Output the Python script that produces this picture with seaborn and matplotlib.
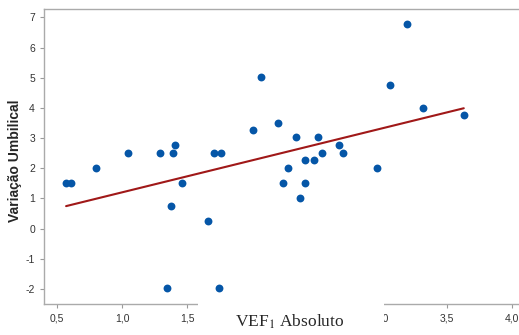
import matplotlib
matplotlib.use("Agg")
import matplotlib.pyplot as plt
from matplotlib.patches import Rectangle
import numpy as np
import pandas as pd
import seaborn as sns

# values
vef1 = [0.57, 0.61, 0.80, 1.05, 1.29, 1.39, 1.41, 1.46, 1.38, 1.66, 1.35, 1.75,
        1.71, 1.76, 2.01, 2.07, 2.20, 2.24, 2.28, 2.34, 2.37, 2.41, 2.41, 2.48,
        2.51, 2.54, 2.67, 2.70, 2.96, 3.06, 3.19, 3.32, 3.63]
umbilical = [1.52, 1.52, 2.0, 2.5, 2.5, 2.5, 2.76, 1.52, 0.75, 0.25, -1.98, -1.98,
             2.5, 2.5, 3.27, 5.02, 3.5, 1.52, 2.0, 3.02, 1.0, 1.52, 2.26, 2.26,
             3.02, 2.5, 2.76, 2.5, 2.0, 4.77, 6.77, 4.0, 3.75]
xticks = [0.5, 1.0, 1.5, 2.0, 2.5, 3.0, 3.5, 4.0]
# 2,0 and 2,5 sit behind the axis title box in the reference
xticklabels = ["0,5", "1,0", "1,5", "", "", "3,0", "3,5", "4,0"]
yticks = [-2, -1, 0, 1, 2, 3, 4, 5, 6, 7]

df = pd.DataFrame({"vef1": vef1, "umb": umbilical})

sns.set_style("white")
plt.rcParams['font.family'] = ['Liberation Sans', 'DejaVu Sans']
plt.rcParams['mathtext.fontset'] = 'stix'
plt.rcParams['axes.unicode_minus'] = False

fig = plt.figure(figsize=(5.19, 3.35), dpi=100)
ax = fig.add_axes([44/519, 1 - 304/335, 1 - 44/519, (304 - 9)/335])

sns.regplot(data=df, x="vef1", y="umb", ci=None, ax=ax,
            scatter_kws=dict(s=32, color="#0556a7", linewidths=0, alpha=1, zorder=3),
            line_kws=dict(color="#a01818", lw=1.5, zorder=2))

ax.set_xlim(0.4, 4.055)
ax.set_ylim(-2.5, 7.28)
ax.set_xticks(xticks)
ax.set_xticklabels(xticklabels)
ax.set_yticks(yticks)
ax.tick_params(axis="both", labelsize=7.5, colors="#9a9a9a", labelcolor="#333333",
               length=3, width=0.8, direction="out", bottom=True, left=True)
ax.set_xlabel("")
ax.set_ylabel("Variação Umbilical", fontsize=10, fontweight="bold")
ax.yaxis.set_label_coords(-0.047, 0.485)
for s in ["left", "top", "bottom"]:
    ax.spines[s].set_color("#aaaaaa")
    ax.spines[s].set_linewidth(1.0)
ax.spines["right"].set_visible(False)

# white box hiding part of the x axis behind the label
fig.add_artist(Rectangle((198/519, 0), (384 - 198)/519, (335 - 301)/335,
                         transform=fig.transFigure, facecolor="white",
                         edgecolor="none", zorder=5))
fig.text(290/519, 1 - 322/335, "VEF$_1$ Absoluto", ha="center", va="center",
         fontsize=12.5, family="Liberation Serif", zorder=6)

fig.savefig("out.png", dpi=100)
